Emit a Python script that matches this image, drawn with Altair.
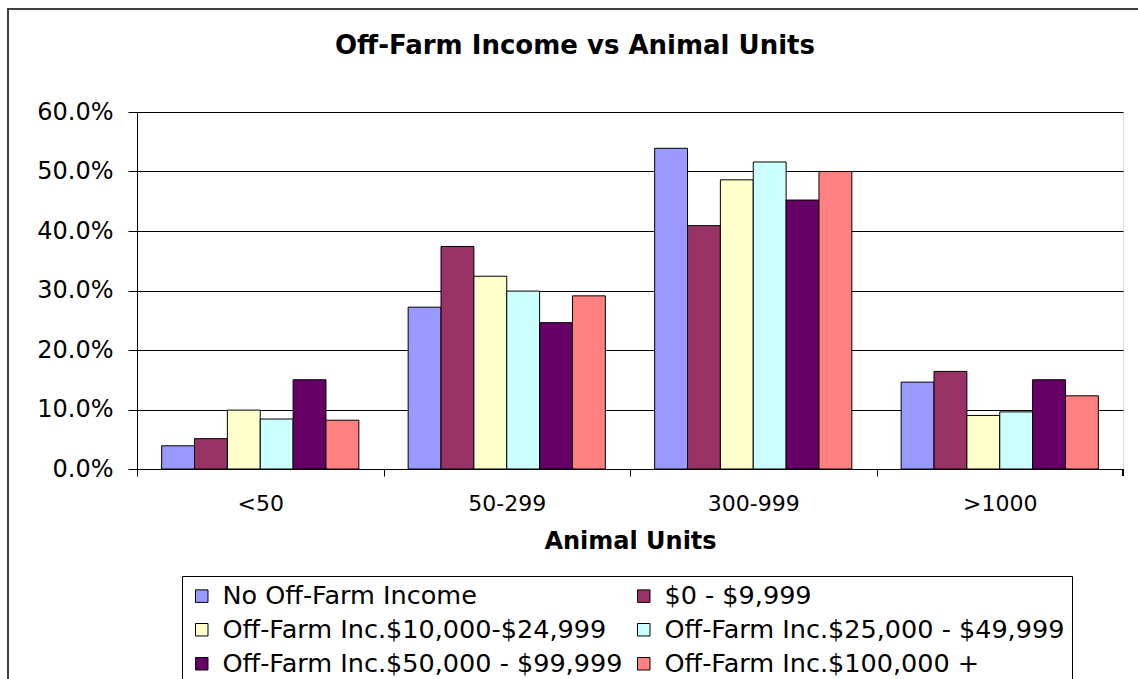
import altair as alt
import pandas as pd

chart_title = "Off-Farm Income vs Animal Units"
categories = ["<50", "50-299", "300-999", ">1000"]
series = [
    "No Off-Farm Income",
    "$0 - $9,999",
    "Off-Farm Inc.$10,000-$24,999",
    "Off-Farm Inc.$25,000 - $49,999",
    "Off-Farm Inc.$50,000 - $99,999",
    "Off-Farm Inc.$100,000 +",
]
colors = ["#9999FF", "#993366", "#FFFFCC", "#CCFFFF", "#660066", "#FF8080"]

# percent values per series, in category order
no_off_farm = [3.9, 27.2, 53.9, 14.6]
inc_0_9999 = [5.1, 37.4, 40.9, 16.4]
inc_10k_25k = [9.9, 32.4, 48.6, 9.0]
inc_25k_50k = [8.4, 29.9, 51.6, 9.6]
inc_50k_100k = [15.0, 24.6, 45.2, 15.0]
inc_100k_plus = [8.2, 29.1, 50.0, 12.3]

y_ticks = [0.0, 0.1, 0.2, 0.3, 0.4, 0.5, 0.6]

all_vals = [no_off_farm, inc_0_9999, inc_10k_25k, inc_25k_50k, inc_50k_100k, inc_100k_plus]
rows = []
for s, vals in zip(series, all_vals):
    for c, v in zip(categories, vals):
        rows.append({"category": c, "series": s, "value": v / 100.0})
df = pd.DataFrame(rows)
title_df = pd.DataFrame({"t": [chart_title]})

W, H = 986, 357
FONT = "DejaVu Sans"
step = W / len(categories)

border = alt.Chart(title_df).mark_rect(
    filled=False, stroke="#404040", strokeWidth=2
).encode(
    x=alt.value(8 - 137), x2=alt.value(1138 - 137 + 30),
    y=alt.value(9 - 112), y2=alt.value(679 - 112 + 30),
)

title_text = alt.Chart(title_df).mark_text(
    font=FONT, fontSize=26, fontWeight="bold", color="black",
    align="center", baseline="alphabetic",
).encode(
    text="t:N", x=alt.value(575 - 137), y=alt.value(54 - 112),
)

bars = alt.Chart(df).mark_bar(stroke="black", strokeWidth=1).encode(
    x=alt.X(
        "category:N",
        sort=categories,
        scale=alt.Scale(paddingInner=0.2, paddingOuter=0.1),
        axis=alt.Axis(
            title="Animal Units",
            titleFont=FONT, titleFontSize=24, titleFontWeight="bold", titleColor="black",
            titlePadding=15,
            labelFont=FONT, labelFontSize=22, labelColor="black", labelAngle=0,
            labelPadding=17,
            bandPosition=0.5, tickOffset=-step / 2, labelOffset=step / 2,
            tickSize=7, tickColor="black", domainColor="black", grid=False,
        ),
    ),
    xOffset=alt.XOffset("series:N", sort=series,
                        scale=alt.Scale(paddingInner=0, paddingOuter=0)),
    y=alt.Y(
        "value:Q",
        scale=alt.Scale(domain=[0, 0.6], nice=False),
        axis=alt.Axis(
            title=None, values=y_ticks, format=".1%",
            labelFont=FONT, labelFontSize=24, labelColor="black", labelPadding=15,
            tickSize=9, tickColor="black", domainColor="black",
            grid=True, gridColor="black", gridWidth=1,
        ),
    ),
    color=alt.Color(
        "series:N",
        sort=series,
        scale=alt.Scale(domain=series, range=colors),
        legend=alt.Legend(
            title=None, orient="none", legendX=45, legendY=464,
            direction="horizontal", columns=2, columnPadding=8, rowPadding=7,
            symbolType="square", symbolSize=156, symbolStrokeColor="black",
            symbolStrokeWidth=1, symbolOpacity=1,
            labelFont=FONT, labelFontSize=25.5, labelColor="black", labelLimit=800,
            labelOffset=8,
            strokeColor="black", fillColor="white", padding=7,
        ),
    ),
)

end_tick = alt.Chart(df).mark_rule(color="black").encode(
    x=alt.value(W), y=alt.value(H), y2=alt.value(H + 7)
)

chart = alt.layer(border, title_text, bars, end_tick).properties(
    width=W, height=H,
    autosize=alt.AutoSizeParams(type="none"),
    padding={"left": 137, "top": 112, "right": 15, "bottom": 210},
).configure_view(
    fill="#C0C0C0", stroke="#808080", strokeWidth=1
).configure(background="white")

chart.save("out.html", embed_options={"renderer": "svg", "actions": False})
